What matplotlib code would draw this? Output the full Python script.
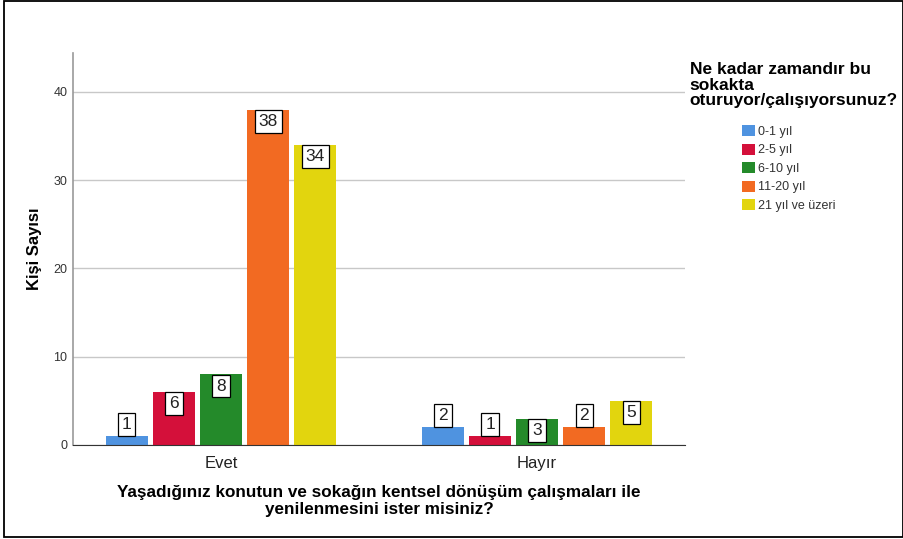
import numpy as np
import matplotlib.pyplot as plt
from matplotlib.patches import Rectangle

groups = ["Evet", "Hayır"]
series = ["0-1 yıl", "2-5 yıl", "6-10 yıl", "11-20 yıl", "21 yıl ve üzeri"]
values = [
    [1, 2],
    [6, 1],
    [8, 3],
    [38, 2],
    [34, 5],
]
colors = ["#4f93e0", "#d4103a", "#248a2a", "#f26a22", "#e2d50e"]

plt.rcParams['font.family'] = ['Liberation Sans', 'DejaVu Sans']

fig = plt.figure(figsize=(9.04, 5.39), dpi=100)
ax = fig.add_axes([0.0808, 0.1744, 0.677, 0.727])

x = np.arange(len(groups))
pitch = 0.149
width = 0.133
px_per_unit = 0.727 * 539 / 44.4

for i, (name, vals) in enumerate(zip(series, values)):
    pos = x + (i - 2) * pitch
    ax.bar(pos, vals, width=width, color=colors[i], label=name, zorder=2)
    for xp, v in zip(pos, vals):
        inside = v * px_per_unit >= 25
        ax.annotate(str(v), (xp, v), xytext=(0, -3 if inside else 3),
                    textcoords='offset points', ha='center',
                    va='top' if inside else 'bottom', fontsize=12.5, zorder=3,
                    color='#222222',
                    bbox=dict(boxstyle='square,pad=0.22', fc='white', ec='black', lw=0.9))

ax.set_xlim(-0.468, 1.468)
ax.set_ylim(0, 44.4)
ax.set_yticks([0, 10, 20, 30, 40])
ax.yaxis.grid(True, color='#c8c8c8', lw=1, zorder=0)
ax.set_xticks(x)
ax.set_xticklabels(groups, fontsize=12, color='#222222')
ax.tick_params(axis='y', labelsize=9, length=0, pad=4, colors='#333333')
ax.tick_params(axis='x', length=0, pad=8)
for s in ['top', 'right']:
    ax.spines[s].set_visible(False)
ax.spines['left'].set_color('#999999')
ax.spines['left'].set_linewidth(1.2)
ax.spines['bottom'].set_color('#333333')

ax.set_ylabel("Kişi Sayısı", fontsize=12, fontweight='bold', labelpad=8)
ax.set_xlabel("Yaşadığınız konutun ve sokağın kentsel dönüşüm çalışmaları ile\nyenilenmesini ister misiniz?",
              fontsize=12.3, fontweight='bold', labelpad=10, linespacing=1.15)

fig.text(0.763, 0.885, "Ne kadar zamandır bu\nsokakta\noturuyor/çalışıyorsunuz?",
         fontsize=12.5, fontweight='bold', va='top', ha='left', linespacing=1.05)
leg = ax.legend(loc='upper left', bbox_to_anchor=(0.821, 0.768), bbox_transform=fig.transFigure,
                frameon=False, fontsize=9, handlelength=1.0, handleheight=1.0,
                handletextpad=0.25, labelspacing=0.45, borderaxespad=0, borderpad=0)
for t in leg.get_texts():
    t.set_color('#333333')

fig.patches.append(Rectangle((4 / 904, 2 / 539), 899 / 904, 536 / 539, transform=fig.transFigure,
                             fill=False, ec='black', lw=1.3))

fig.savefig("out.png", dpi=100)
